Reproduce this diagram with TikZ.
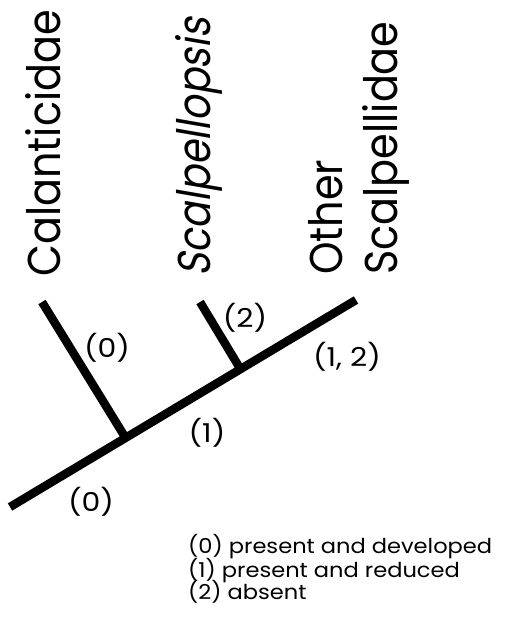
\documentclass[tikz,border=0pt]{standalone}
\usepackage{fontspec}
\setmainfont{Poppins}
\newfontfamily\obliquefont[FakeSlant=0.2]{Poppins}
\begin{document}
\begin{tikzpicture}[x=1pt,y=-1pt,
  branch/.style={line width=8.5pt, line cap=butt},
  taxon/.style={rotate=90, anchor=base west, inner sep=0pt, font=\fontsize{46}{50}\selectfont},
  state/.style={inner sep=0pt, font=\fontsize{26}{28}\selectfont},
  legend/.style={anchor=base west, inner sep=0pt, font=\fontsize{20.5}{23}\selectfont}]
\useasboundingbox (0,0) rectangle (504,617);
% tree
\coordinate (root) at (10,507);
\coordinate (tip3) at (356,300);
\coordinate (tip1) at (42,302);
\coordinate (tip2) at (200,302);
\coordinate (j1) at (125.6,437.9);
\coordinate (j2) at (240.5,369.2);
\draw[branch] (root) -- (tip3);
\draw[branch] (tip1) -- (j1);
\draw[branch] (tip2) -- (j2);
% taxa
\node[taxon] (cal) at (60,277) {\scalebox{0.9}[1]{Calanticidae}};
\node[taxon] (sca) at (210,277) {\scalebox{0.865}[1]{\obliquefont Scalpellopsis}};
\node[taxon] (oth) at (342,275) {\scalebox{0.9}[1]{Other}};
\node[taxon] (scl) at (397,275) {\scalebox{0.9}[1]{Scalpellidae}};
% character states
\node[state] (s1) at (107,348) {\scalebox{1.15}[1]{(0)}};
\node[state] (s2) at (245,318) {\scalebox{1.15}[1]{(2)}};
\node[state] (s3) at (347,357) {\scalebox{1.15}[1]{(1, 2)}};
\node[state] (s4) at (207,433) {\scalebox{1.15}[1]{(1)}};
\node[state] (s5) at (91,502) {\scalebox{1.15}[1]{(0)}};
% legend
\node[legend] (l1) at (188,553) {\scalebox{1.1}[1]{(0) present and developed}};
\node[legend] (l2) at (188,577) {\scalebox{1.1}[1]{(1) present and reduced}};
\node[legend] (l3) at (188,599) {\scalebox{1.1}[1]{(2) absent}};
\end{tikzpicture}
\end{document}
